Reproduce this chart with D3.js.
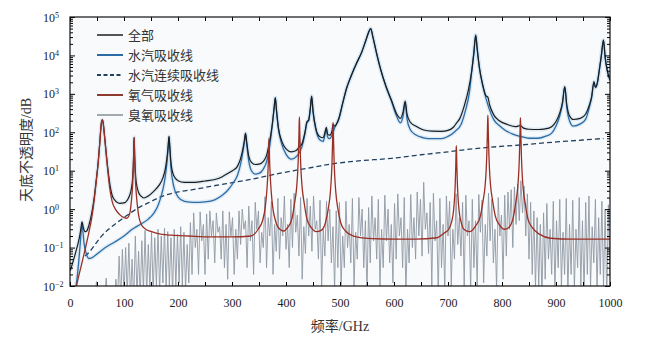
<!DOCTYPE html>
<html>
<head>
<meta charset="utf-8">
<script src="https://cdn.jsdelivr.net/npm/d3@7"></script>
<style>
  body { margin: 0; background: #fff; }
  svg { display: block; }
  text { fill: #222; }
</style>
</head>
<body>
<svg width="645" height="339"></svg>
<script>
// 频率 (GHz) / 不透明度 (dB)
const totalLine = [[0.5,0.025],[6,0.045],[12,0.09],[17,0.17],[20,0.3],[21.5,0.42],[22.2,0.47],[23.2,0.42],[25,0.32],[28,0.26],[31,0.27],[35,0.38],[40,0.75],[45,2.1],[49,6.3],[52,15.3],[55,50],[57,120],[58.5,190],[60,212],[61.5,175],[63,112],[66,41],[70,11.5],[74,4.3],[78,2.3],[84,1.65],[92,1.42],[100,1.45],[106,1.7],[110,2.2],[113.8,3.5],[115.8,6],[117.8,25],[118.25,48],[118.75,74],[119.25,48],[119.75,25],[121.8,6.5],[123.8,4],[127,2.7],[132,2.15],[137,1.95],[145,2.2],[155,2.9],[165,4.2],[172,6.5],[177,12],[180.5,28],[182.3,55],[183.3,78],[184.5,50],[187,16],[192,7.5],[200,5.5],[212,5],[230,5],[250,5.4],[270,6],[282,7],[293,8.6],[303,10.5],[310,13],[316,21],[320,36],[323,62],[325,95],[327.5,52],[331,24],[336,16.5],[343,14.5],[350,14.8],[358,17.5],[364,25],[368.5,48],[372,90],[375,180],[378,430],[380.2,800],[382.5,360],[386,130],[392,60],[400,37],[410,31],[418,33],[424.8,42],[430,52],[435,100],[439,190],[442,210],[445,410],[447.5,870],[450,360],[455,132],[462,78],[469,72],[472,98],[474.7,135],[477,90],[481,84],[485,105],[487.2,160],[490,145],[498,235],[505,580],[512,1380],[520,2800],[530,6000],[540,12000],[548,25000],[553,40000],[556.9,50000],[561,30000],[568,11000],[576,4000],[585,1600],[595,700],[605,300],[612,230],[617,350],[620.7,650],[624,300],[630,185],[640,145],[655,115],[670,107],[688,106],[700,112],[710,135],[716,175],[722,230],[730,480],[738,1300],[744,4000],[748,12000],[751.3,34000],[754,15000],[758,5000],[764,1800],[770,900],[773.8,820],[777,520],[785,280],[795,200],[810,160],[825,140],[834.1,150],[840,128],[850,120],[867,118],[880,122],[892,140],[900,190],[907,320],[912,600],[916.2,1550],[920,520],[925,270],[932,215],[945,230],[955,300],[962,520],[966,850],[970.3,2100],[973,1500],[976,1800],[980,4000],[984,10000],[987.9,25000],[991,9000],[995,4000],[1000,2300]];

const waterLine = [[8,0.006],[12,0.012],[16,0.04],[19,0.13],[21,0.3],[22.2,0.4],[23.5,0.3],[26,0.13],[30,0.07],[35,0.052],[40,0.054],[50,0.068],[60,0.088],[70,0.11],[83,0.14],[100,0.2],[114,0.29],[130,0.4],[145,0.55],[155,0.78],[162,1.15],[167,1.8],[172,3.2],[176,6.5],[179.5,16],[181.8,38],[183.3,75],[184.5,45],[187,12],[192,4],[200,2.1],[212,1.6],[230,1.5],[250,1.55],[268,1.75],[282,2.3],[293,3.2],[303,5],[310,7.5],[316,15],[320,30],[323,55],[325,90],[327.5,45],[331,18],[336,10],[343,8.2],[350,8.5],[358,11],[364,17],[370,45],[375,170],[378,420],[380.2,780],[382.5,350],[386,120],[392,50],[400,27],[410,20],[420,24],[429,40],[435,90],[439,180],[442,200],[445,400],[447.5,850],[450,350],[455,120],[462,65],[469,58],[472,85],[474.7,120],[477,75],[481,68],[486,90],[490,130],[498,220],[505,560],[512,1350],[520,2750],[530,5950],[540,11900],[548,24900],[553,39900],[556.9,49900],[561,29900],[568,10900],[576,3950],[585,1560],[595,660],[605,260],[612,175],[617,270],[620.7,590],[624,230],[630,118],[640,86],[655,72],[670,68],[688,68],[700,78],[713,105],[725,170],[733,400],[740,1200],[744,3900],[748,11900],[751.3,33900],[754,14900],[758,4900],[764,1700],[770,800],[776,420],[785,210],[795,150],[805,115],[820,90],[836,77],[850,70],[867,70],[880,78],[892,95],[900,145],[907,270],[912,550],[916.2,1500],[920,440],[925,200],[932,145],[945,165],[955,220],[962,460],[966,800],[970.3,2000],[973,1450],[976,1750],[980,3900],[984,9900],[987.9,24800],[991,8900],[995,3950],[1000,2250]];

const continuumLine = [[28,0.06],[37,0.08],[50,0.14],[60,0.21],[75,0.33],[90,0.48],[105,0.68],[115,0.85],[130,1.15],[145,1.45],[160,1.85],[176,2.3],[200,2.8],[230,3.25],[260,3.9],[293,4.7],[325,5.6],[355,6.8],[385,8.4],[417,10.2],[450,12.3],[485,15],[530,17.8],[596,21],[650,26],[700,31],[730,35],[780,41],[836,47],[900,56],[950,63],[988,69]];

const oxygenLine = [[10,0.007],[12,0.01],[20,0.03],[28,0.09],[35,0.25],[40,0.57],[45,1.8],[49,6],[52,15],[55,50],[57,120],[58.5,190],[60,210],[61.5,170],[63,108],[66,38],[70,10],[74,3.2],[78,1.6],[84,1.0],[92,0.72],[100,0.6],[105,0.58],[110,0.72],[113.8,1.7],[115.8,4],[117.8,22],[118.25,45],[118.75,72],[119.25,45],[119.75,22],[121.8,4],[123.8,1.7],[127,0.7],[132,0.4],[140,0.3],[151,0.26],[170,0.22],[188,0.21],[220,0.2],[260,0.19],[300,0.19],[335,0.2],
  [348.5,0.3],[356.5,0.5],[361.5,1.1],[364.5,3],[366.5,9],[367.5,22],[368,45],[368.5,70],[369,45],[369.5,22],[370.5,9],[372.5,3],[375.5,1.1],[380.5,0.5],[388.5,0.3],[396,0.27],
  [402.8,0.33],[410.8,0.55],[415.8,1.4],[419.8,3.8],[421.8,10],[422.8,22],[423.8,70],[424.3,150],[424.8,250],[425.3,150],[425.8,70],[426.8,22],[427.8,10],[429.8,3.8],[433.8,1.4],[438.8,0.55],[446.8,0.33],[456,0.26],
  [465.2,0.28],[473.2,0.45],[478.2,1.0],[482.2,2.8],[484.2,7.5],[485.2,16],[486.2,50],[486.7,110],[487.2,180],[487.7,110],[488.2,50],[489.2,16],[490.2,7.5],[492.2,2.8],[496.2,1.0],[501.2,0.45],[509.2,0.28],[525,0.2],[560,0.17],[600,0.165],[640,0.165],[680,0.18],[693,0.24],
  [701.4,0.3],[706.4,0.45],[710.4,0.95],[712.4,2.2],[713.4,4.5],[714.4,13],[714.9,28],[715.4,45],[715.9,28],[716.4,13],[717.4,4.5],[718.4,2.2],[720.4,0.95],[724.4,0.45],[729.4,0.3],[740,0.26],
  [751.8,0.38],[759.8,0.65],[764.8,1.6],[768.8,4.2],[770.8,11],[771.8,25],[772.8,80],[773.3,170],[773.8,280],[774.3,170],[774.8,80],[775.8,25],[776.8,11],[778.8,4.2],[782.8,1.6],[787.8,0.65],[795.8,0.38],[805,0.3],
  [812.1,0.33],[820.1,0.55],[825.1,1.35],[829.1,3.6],[831.1,9.5],[832.1,21],[833.1,68],[833.6,145],[834.1,240],[834.6,145],[835.1,68],[836.1,21],[837.1,9.5],[839.1,3.6],[843.1,1.35],[848.1,0.55],[856.1,0.33],[870,0.22],[890,0.175],[930,0.165],[1000,0.165]];

// 臭氧: 从 40 GHz 起每 3 GHz 一个读数
const ozoneStart = 40, ozoneStep = 3;
const ozoneValues = [
  0.004,0.004,0.004,0.013,0.004,0.004,0.004,0.004,0.004,0.016,0.004,0.004,0.004,0.004,0.004,0.015,
  0.004,0.06,0.004,0.09,0.005,0.1,0.006,0.13,0.005,0.05,0.004,0.2,0.006,0.08,0.005,0.15,0.007,0.28,0.006,0.12,
  0.008,0.25,0.006,0.18,0.01,0.3,0.007,0.2,0.012,0.32,0.008,0.26,0.01,0.18,0.006,0.3,0.009,0.22,0.012,0.35,
  0.01,0.25,0.008,0.12,0.012,0.45,0.02,0.8,0.1,0.3,0.02,0.85,0.15,0.4,0.02,0.75,0.05,0.9,0.2,0.5,
  0.04,0.8,0.25,0.35,0.05,0.9,0.03,0.4,0.015,0.85,0.2,0.6,0.02,0.3,0.05,0.9,0.12,1.0,0.3,0.5,
  0.03,1.2,0.15,0.5,0.02,1.5,0.3,0.9,0.04,0.25,0.1,2.1,0.03,0.6,0.2,1.6,0.02,0.4,0.08,1.9,
  0.05,0.6,0.2,2.2,0.09,0.4,0.03,1.8,0.1,2.6,0.25,0.7,0.06,2.0,0.015,0.35,0.07,1.9,0.2,1.2,
  0.08,2.2,0.3,0.5,0.05,1.7,0.01,0.3,0.06,1.6,0.15,1.0,0.04,0.35,0.008,0.9,0.03,1.5,0.01,0.2,
  0.03,1.6,0.1,0.4,0.04,1.9,0.01,0.25,0.05,2.0,0.2,1.0,0.03,0.5,0.007,1.1,0.04,2.2,0.15,0.6,
  0.05,1.8,0.01,0.3,0.03,2.3,0.15,1.0,0.04,0.4,0.012,1.4,0.05,2.5,0.2,0.6,0.03,2.0,0.006,0.3,
  0.04,2.4,0.1,0.6,0.05,2.8,0.2,1.8,0.06,5.0,0.3,0.8,0.07,1.5,0.01,2.6,0.15,0.5,0.006,1.9,
  0.03,0.4,0.008,2.2,0.2,1.6,0.01,0.3,0.05,2.5,0.12,0.6,0.06,1.5,0.01,2.3,0.2,0.5,0.008,1.8,
  0.03,0.5,0.01,2.4,0.25,1.7,0.012,0.4,0.06,2.6,0.15,1.8,0.04,0.3,0.008,2.0,0.2,0.7,0.015,2.3,
  0.06,2.8,0.3,3.2,0.1,3.8,0.4,4.5,0.5,5.5,0.8,4.0,0.2,2.5,0.05,1.5,0.02,0.9,0.008,0.6,
  0.01,0.4,0.005,0.8,0.015,1.4,0.05,0.3,0.02,1.6,0.008,0.5,0.03,1.8,0.01,0.25,0.02,1.9,0.006,0.4,
  0.02,1.7,0.008,0.3,0.03,2.0,0.01,0.5,0.006,1.5,0.02,2.2,0.01,0.35,0.04,1.8,0.007,0.6,0.02,1.6,
  0.01,1.0,0.005,1.3,0.02
];

const xTickValues = d3.range(0, 1001, 50);
const xTickLabels = [0, 100, 200, 300, 400, 500, 600, 700, 800, 900, 1000];
const yExponents = [-2, -1, 0, 1, 2, 3, 4, 5];

const legendItems = [
  { label: "全部", color: "#555", dash: null },
  { label: "水汽吸收线", color: "#2b6ca6", dash: null },
  { label: "水汽连续吸收线", color: "#22415f", dash: "4,2.5" },
  { label: "氧气吸收线", color: "#8f3a30", dash: null },
  { label: "臭氧吸收线", color: "#a3a9b0", dash: null }
];

const serif = '"Liberation Serif", "DejaVu Serif", serif';
const cjk = '"Noto Sans CJK SC", "Noto Sans", sans-serif';

const svg = d3.select("svg");
const area = { left: 70, right: 610, top: 17, bottom: 286 };

const scX = d3.scaleLinear().domain([0, 1000]).range([area.left, area.right]);
const scY = d3.scaleLog().domain([0.01, 1e5]).range([area.bottom, area.top]);

svg.append("defs").append("clipPath").attr("id", "plotClip")
  .append("rect")
  .attr("x", area.left).attr("y", area.top)
  .attr("width", area.right - area.left).attr("height", area.bottom - area.top);

// 绘图区底色
svg.append("rect")
  .attr("x", area.left).attr("y", area.top)
  .attr("width", area.right - area.left).attr("height", area.bottom - area.top)
  .style("fill", "#f9fafc");

const plot = svg.append("g").attr("clip-path", "url(#plotClip)");

const smooth = d3.line()
  .x(d => scX(d[0]))
  .y(d => scY(d[1]))
  .curve(d3.curveMonotoneX);

const ozonePath = d3.line()
  .x((d, i) => scX(ozoneStart + i * ozoneStep))
  .y(d => scY(d));

plot.append("path")
  .datum(ozoneValues)
  .attr("d", ozonePath)
  .style("fill", "none")
  .style("stroke", "#8f98a4")
  .style("stroke-width", 0.9);

// 曲线下的浅色光晕
[waterLine, totalLine].forEach(data => {
  plot.append("path")
    .datum(data)
    .attr("d", smooth)
    .style("fill", "none")
    .style("stroke", "#d3e4f1")
    .style("stroke-width", 4)
    .style("opacity", 0.7);
});

plot.append("path")
  .datum(continuumLine)
  .attr("d", smooth)
  .style("fill", "none")
  .style("stroke", "#22415f")
  .style("stroke-width", 1.3)
  .style("stroke-dasharray", "5,3");

plot.append("path")
  .datum(waterLine)
  .attr("d", smooth)
  .style("fill", "none")
  .style("stroke", "#2b6ca6")
  .style("stroke-width", 1.3);

plot.append("path")
  .datum(totalLine)
  .attr("d", smooth)
  .style("fill", "none")
  .style("stroke", "#1c1c1c")
  .style("stroke-width", 1.2);

plot.append("path")
  .datum(oxygenLine)
  .attr("d", smooth)
  .style("fill", "none")
  .style("stroke", "#9a2f25")
  .style("stroke-width", 1.3);

// 坐标轴：刻度朝内
svg.append("g")
  .attr("transform", `translate(0, ${area.bottom})`)
  .call(d3.axisBottom(scX).tickValues(xTickValues).tickSizeInner(-4).tickSizeOuter(0)
        .tickPadding(12).tickFormat(d => xTickLabels.includes(d) ? d : ""))
  .call(g => g.select(".domain").remove())
  .call(g => g.selectAll("text").style("font-family", serif).style("font-size", "12px").style("fill", "#222"));

svg.append("g")
  .attr("transform", `translate(0, ${area.top})`)
  .call(d3.axisTop(scX).tickValues(xTickValues).tickSizeInner(-4).tickSizeOuter(0).tickFormat(""))
  .call(g => g.select(".domain").remove());

const yMajor = yExponents.map(e => Math.pow(10, e));
const yMinor = [];
yExponents.slice(0, -1).forEach(e => {
  for (let k = 2; k <= 9; k++) yMinor.push(k * Math.pow(10, e));
});

[[d3.axisLeft, area.left], [d3.axisRight, area.right]].forEach(([axisFn, x]) => {
  svg.append("g")
    .attr("transform", `translate(${x}, 0)`)
    .call(axisFn(scY).tickValues(yMinor).tickSizeInner(-3).tickSizeOuter(0).tickFormat(""))
    .call(g => g.select(".domain").remove());
  svg.append("g")
    .attr("transform", `translate(${x}, 0)`)
    .call(axisFn(scY).tickValues(yMajor).tickSizeInner(-5).tickSizeOuter(0).tickFormat(""))
    .call(g => g.select(".domain").remove());
});

// 10^n 刻度标签
const yLabels = svg.append("g");
yExponents.forEach(e => {
  const t = yLabels.append("text")
    .attr("x", 43)
    .attr("y", scY(Math.pow(10, e)))
    .attr("dy", "0.38em")
    .style("font-family", serif)
    .style("font-size", "12px")
    .text("10");
  t.append("tspan")
    .attr("dy", "-0.5em")
    .style("font-size", "8px")
    .text(e < 0 ? "\u2212" + (-e) : e);
});

// 边框
svg.append("rect")
  .attr("x", area.left).attr("y", area.top)
  .attr("width", area.right - area.left).attr("height", area.bottom - area.top)
  .style("fill", "none")
  .style("stroke", "#111")
  .style("stroke-width", 1.2);

// 轴标题
svg.append("text")
  .attr("x", (area.left + area.right) / 2)
  .attr("y", 331)
  .attr("text-anchor", "middle")
  .style("font-size", "14px")
  .style("fill", "#333")
  .call(t => {
    t.append("tspan").style("font-family", cjk).text("频率");
    t.append("tspan").style("font-family", serif).text("/GHz");
  });

svg.append("text")
  .attr("transform", "translate(31, 150) rotate(-90)")
  .attr("text-anchor", "middle")
  .style("font-size", "14px")
  .style("fill", "#333")
  .call(t => {
    t.append("tspan").style("font-family", cjk).text("天底不透明度");
    t.append("tspan").style("font-family", serif).text("/dB");
  });

// 图例
const legend = svg.append("g");
legendItems.forEach((item, i) => {
  const y = 35 + i * 20;
  legend.append("line")
    .attr("x1", 97).attr("x2", 123)
    .attr("y1", y).attr("y2", y)
    .style("stroke", item.color)
    .style("stroke-width", 2)
    .style("stroke-dasharray", item.dash);
  legend.append("text")
    .attr("x", 128)
    .attr("y", y)
    .attr("dy", "0.36em")
    .style("font-family", cjk)
    .style("font-size", "13px")
    .style("fill", "#333")
    .text(item.label);
});
</script>
</body>
</html>
